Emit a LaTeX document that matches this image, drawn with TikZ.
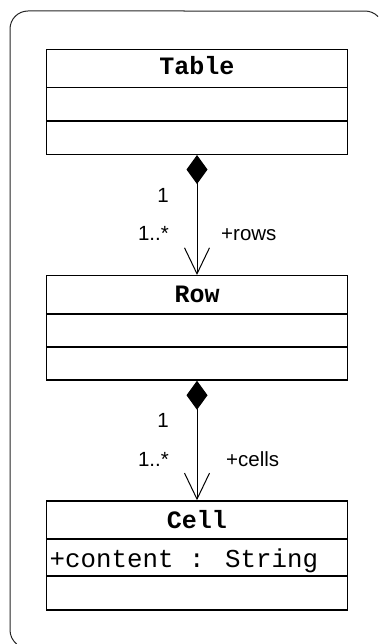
\documentclass[tikz,border=0pt]{standalone}
\usepackage{fontspec}
\setmainfont{Liberation Sans}
\newfontfamily\umlmono{Liberation Mono}
\usetikzlibrary{arrows.meta}
\tikzset{
  classbox/.style={draw=black, line width=1.5pt, minimum width=300.6pt, inner sep=0pt, fill=white},
  divider/.style={draw=black, line width=1.5pt},
  classname/.style={font=\umlmono\bfseries\fontsize{25}{25}\selectfont, inner sep=0pt, anchor=base},
  attr/.style={font=\umlmono\fontsize{25.8}{26}\selectfont, inner sep=0pt, anchor=base west},
  mult/.style={font=\fontsize{20.5}{21}\selectfont, inner sep=0pt},
  compo/.style={draw=black, line width=1pt,
    {Diamond[length=29pt 0 0,width=21pt 0 0]}-{Straight Barb[length=26pt 0 0,width=25pt 0 0,line width=1pt]}},
  frame/.style={draw=black!85, line width=1pt}
}
\begin{document}
\begin{tikzpicture}[x=1pt,y=-1pt]
\useasboundingbox (0,0) rectangle (378,644);
% outer frame, running past the right and bottom edges of the picture
\draw[frame] (378,16.55) arc[start angle=-43.8, end angle=-90, radius=18]
  -- (28,11) arc[start angle=-90, end angle=-180, radius=18]
  -- (10,630) arc[start angle=180, end angle=128.9, radius=18];

% Table
\node[classbox, minimum height=105pt] (table) at (197,101.8) {};
\draw[divider] (table.west |- 0,87.7) -- (table.east |- 0,87.7);
\draw[divider] (table.west |- 0,121) -- (table.east |- 0,121);
\node[classname] (tablename) at (197,75) {Table};

% Row
\node[classbox, minimum height=104.3pt] (row) at (197,327.85) {};
\draw[divider] (row.west |- 0,314) -- (row.east |- 0,314);
\draw[divider] (row.west |- 0,347) -- (row.east |- 0,347);
\node[classname] (rowname) at (197,302.7) {Row};

% Cell
\node[classbox, minimum height=109pt] (cell) at (197,555.5) {};
\draw[divider] (cell.west |- 0,539) -- (cell.east |- 0,539);
\draw[divider] (cell.west |- 0,576) -- (cell.east |- 0,576);
\node[classname] (cellname) at (197,528.3) {Cell};
\node[attr] (cellattr) at (49.5,567) {+content : String};

% Connectors
\draw[compo] (table.south) -- (row.north);
\draw[compo] (row.south) -- (cell.north);

% Labels
\node[mult, anchor=base] (m1a) at (163,202.7) {1};
\node[mult, anchor=base east] (m1b) at (169,240.7) {1..*};
\node[mult, anchor=base west] (r1) at (221,240.7) {+rows};
\node[mult, anchor=base] (m2a) at (163,427.7) {1};
\node[mult, anchor=base east] (m2b) at (169,466.7) {1..*};
\node[mult, anchor=base west] (r2) at (226,466.7) {+cells};
\end{tikzpicture}
\end{document}
